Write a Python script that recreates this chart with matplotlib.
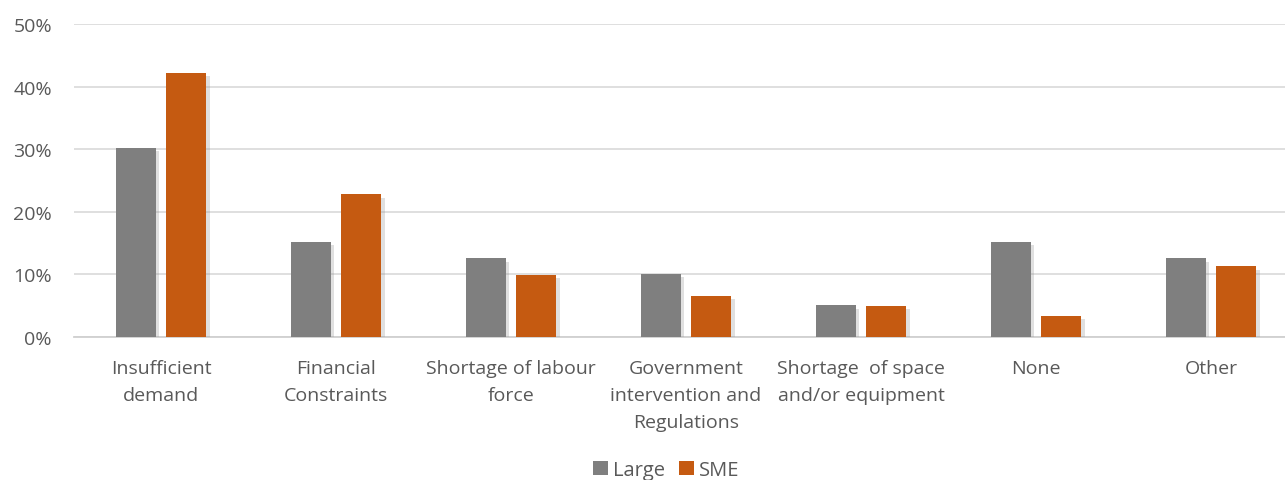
import matplotlib
matplotlib.use("Agg")
import matplotlib.pyplot as plt
import matplotlib.patheffects as pe
import numpy as np

categories = ["Insufficient\ndemand", "Financial\nConstraints", "Shortage of labour\nforce",
              "Government\nintervention and\nRegulations", "Shortage  of space\nand/or equipment",
              "None", "Other"]
large = [30.2, 15.2, 12.6, 10.1, 5.1, 15.2, 12.6]
sme = [42.2, 22.8, 9.9, 6.6, 5.0, 3.4, 11.3]
yticks = [0, 10, 20, 30, 40, 50]
ytick_labels = ["0%", "10%", "20%", "30%", "40%", "50%"]

plt.rcParams['font.family'] = ['Open Sans', 'DejaVu Sans']
W, H = 1285, 481
fig = plt.figure(figsize=(W / 100, H / 100), dpi=100)
ax = fig.add_axes([73.5 / W, 1 - 338 / H, (1285 - 73.5) / W, (338 - 25) / H])

x = np.arange(len(categories))
bw = 0.229
off = 0.143
shadow = [pe.SimplePatchShadow(offset=(2.5, -2.5), shadow_rgbFace='#999999', alpha=0.3), pe.Normal()]
b1 = ax.bar(x - off, large, bw, color='#7f7f7f', label='Large', zorder=3)
b2 = ax.bar(x + off, sme, bw, color='#c55a11', label='SME', zorder=3)
for b in list(b1) + list(b2):
    b.set_path_effects(shadow)

ax.set_xlim(-0.5, -0.5 + (1285 - 73.5) / 175)
ax.set_ylim(0, 50)
ax.set_yticks(yticks)
ax.set_yticklabels(ytick_labels)
ax.set_xticks(x)
ax.set_xticklabels(categories, linespacing=1.62)
ax.yaxis.grid(True, color='#d9d9d9', linewidth=1.2, zorder=0)
ax.set_axisbelow(True)
for s in ['top', 'right', 'left']:
    ax.spines[s].set_visible(False)
ax.spines['bottom'].set_color('#d0d0d0')
ax.spines['bottom'].set_linewidth(1.3)
ax.tick_params(axis='both', length=0, labelsize=14, labelcolor='#595959')
ax.tick_params(axis='y', pad=15.5)
ax.tick_params(axis='x', pad=16)

leg = fig.legend(handles=[b1, b2], labels=['Large', 'SME'], loc='center',
                 bbox_to_anchor=(666 / W, 1 - 471 / H), ncol=2, frameon=False,
                 fontsize=14.5, handlelength=0.75, handleheight=0.75, handletextpad=0.25,
                 columnspacing=0.7, labelcolor='#595959')
for h in leg.legend_handles:
    h.set_path_effects([])

fig.savefig("out.png", dpi=100)
